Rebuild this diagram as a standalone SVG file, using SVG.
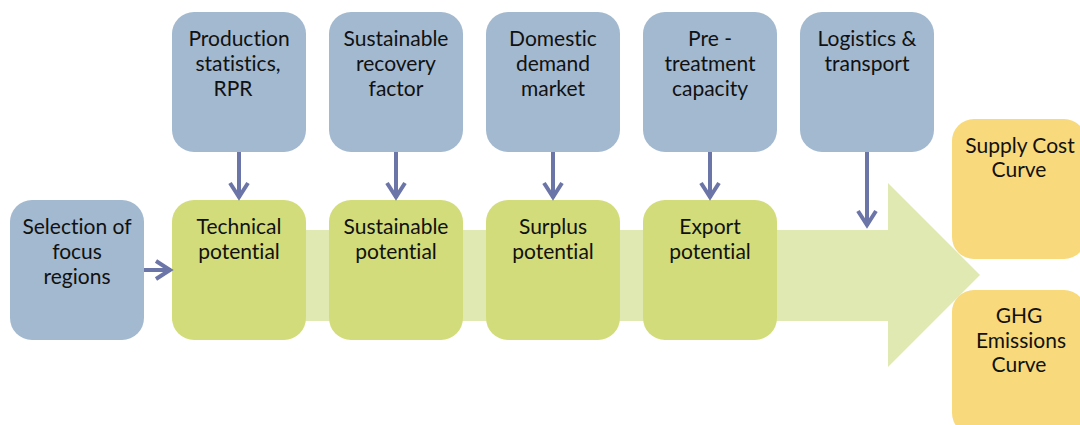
<svg xmlns="http://www.w3.org/2000/svg" width="1080" height="425" viewBox="0 0 1080 425">
<style>
.blue{fill:#a2b9d0}
.green{fill:#d3dc7a}
.orange{fill:#f8d97b}
.t{font-family:Lato,"Liberation Sans",Arial,sans-serif;font-size:21px;fill:#111;text-anchor:middle;font-variant-ligatures:none;font-feature-settings:"liga" 0,"dlig" 0}
.c{stroke:#6c75a8;stroke-width:4;fill:none}
</style>
<defs>
<marker id="ah" markerUnits="userSpaceOnUse" orient="auto" overflow="visible" refX="0" refY="0" markerWidth="20" markerHeight="20">
<path d="M-15,-9 L-1,0 L-15,9" fill="none" stroke="#6c75a8" stroke-width="4"/>
</marker>
</defs>
<g id="flow-arrow">
<polygon points="172,230 888,230 888,183 980,275 888,367 888,321 172,321" fill="#e1e9b3"/>
</g>
<g id="n-production">
<rect class="blue" x="172" y="12" width="134" height="140" rx="22"/>
<text class="t" x="239" y="46">Production</text>
<text class="t" x="238" y="71">statistics,</text>
<text class="t" x="233" y="96">RPR</text>
</g>
<g id="n-recovery">
<rect class="blue" x="329" y="12" width="134" height="140" rx="22"/>
<text class="t" x="396" y="46">Sustainable</text>
<text class="t" x="396" y="71">recovery</text>
<text class="t" x="396" y="96">factor</text>
</g>
<g id="n-domestic">
<rect class="blue" x="486" y="12" width="134" height="140" rx="22"/>
<text class="t" x="553" y="46">Domestic</text>
<text class="t" x="553" y="71">demand</text>
<text class="t" x="553" y="96">market</text>
</g>
<g id="n-pretreatment">
<rect class="blue" x="643" y="12" width="134" height="140" rx="22"/>
<text class="t" x="710" y="46">Pre -</text>
<text class="t" x="710" y="71">treatment</text>
<text class="t" x="710" y="96">capacity</text>
</g>
<g id="n-logistics">
<rect class="blue" x="800" y="12" width="134" height="140" rx="22"/>
<text class="t" x="867" y="46">Logistics &amp;</text>
<text class="t" x="867" y="71">transport</text>
</g>
<g id="n-selection">
<rect class="blue" x="10" y="200" width="134" height="140" rx="22"/>
<text class="t" x="77" y="234">Selection of</text>
<text class="t" x="77" y="259">focus</text>
<text class="t" x="77" y="284">regions</text>
</g>
<g id="n-technical">
<rect class="green" x="172" y="200" width="134" height="140" rx="22"/>
<text class="t" x="239" y="234">Technical</text>
<text class="t" x="239" y="259">potential</text>
</g>
<g id="n-sustainable">
<rect class="green" x="329" y="200" width="134" height="140" rx="22"/>
<text class="t" x="396" y="234">Sustainable</text>
<text class="t" x="396" y="259">potential</text>
</g>
<g id="n-surplus">
<rect class="green" x="486" y="200" width="134" height="140" rx="22"/>
<text class="t" x="553" y="234">Surplus</text>
<text class="t" x="553" y="259">potential</text>
</g>
<g id="n-export">
<rect class="green" x="643" y="200" width="134" height="140" rx="22"/>
<text class="t" x="710" y="234">Export</text>
<text class="t" x="710" y="259">potential</text>
</g>
<g id="n-supplycost">
<rect class="orange" x="952" y="119" width="134" height="140" rx="22"/>
<text class="t" x="1020" y="153">Supply Cost</text>
<text class="t" x="1019" y="177">Curve</text>
</g>
<g id="n-ghg">
<rect class="orange" x="952" y="290" width="134" height="145" rx="22"/>
<text class="t" x="1019" y="323">GHG</text>
<text class="t" x="1021" y="348">Emissions</text>
<text class="t" x="1019" y="372">Curve</text>
</g>
<g id="connectors">
<line class="c" x1="239" y1="152" x2="239" y2="198" marker-end="url(#ah)"/>
<line class="c" x1="396" y1="152" x2="396" y2="198" marker-end="url(#ah)"/>
<line class="c" x1="553" y1="152" x2="553" y2="198" marker-end="url(#ah)"/>
<line class="c" x1="710" y1="152" x2="710" y2="198" marker-end="url(#ah)"/>
<line class="c" x1="867" y1="152" x2="867" y2="226" marker-end="url(#ah)"/>
<line class="c" x1="144" y1="270" x2="171" y2="270" marker-end="url(#ah)"/>
</g>
</svg>
